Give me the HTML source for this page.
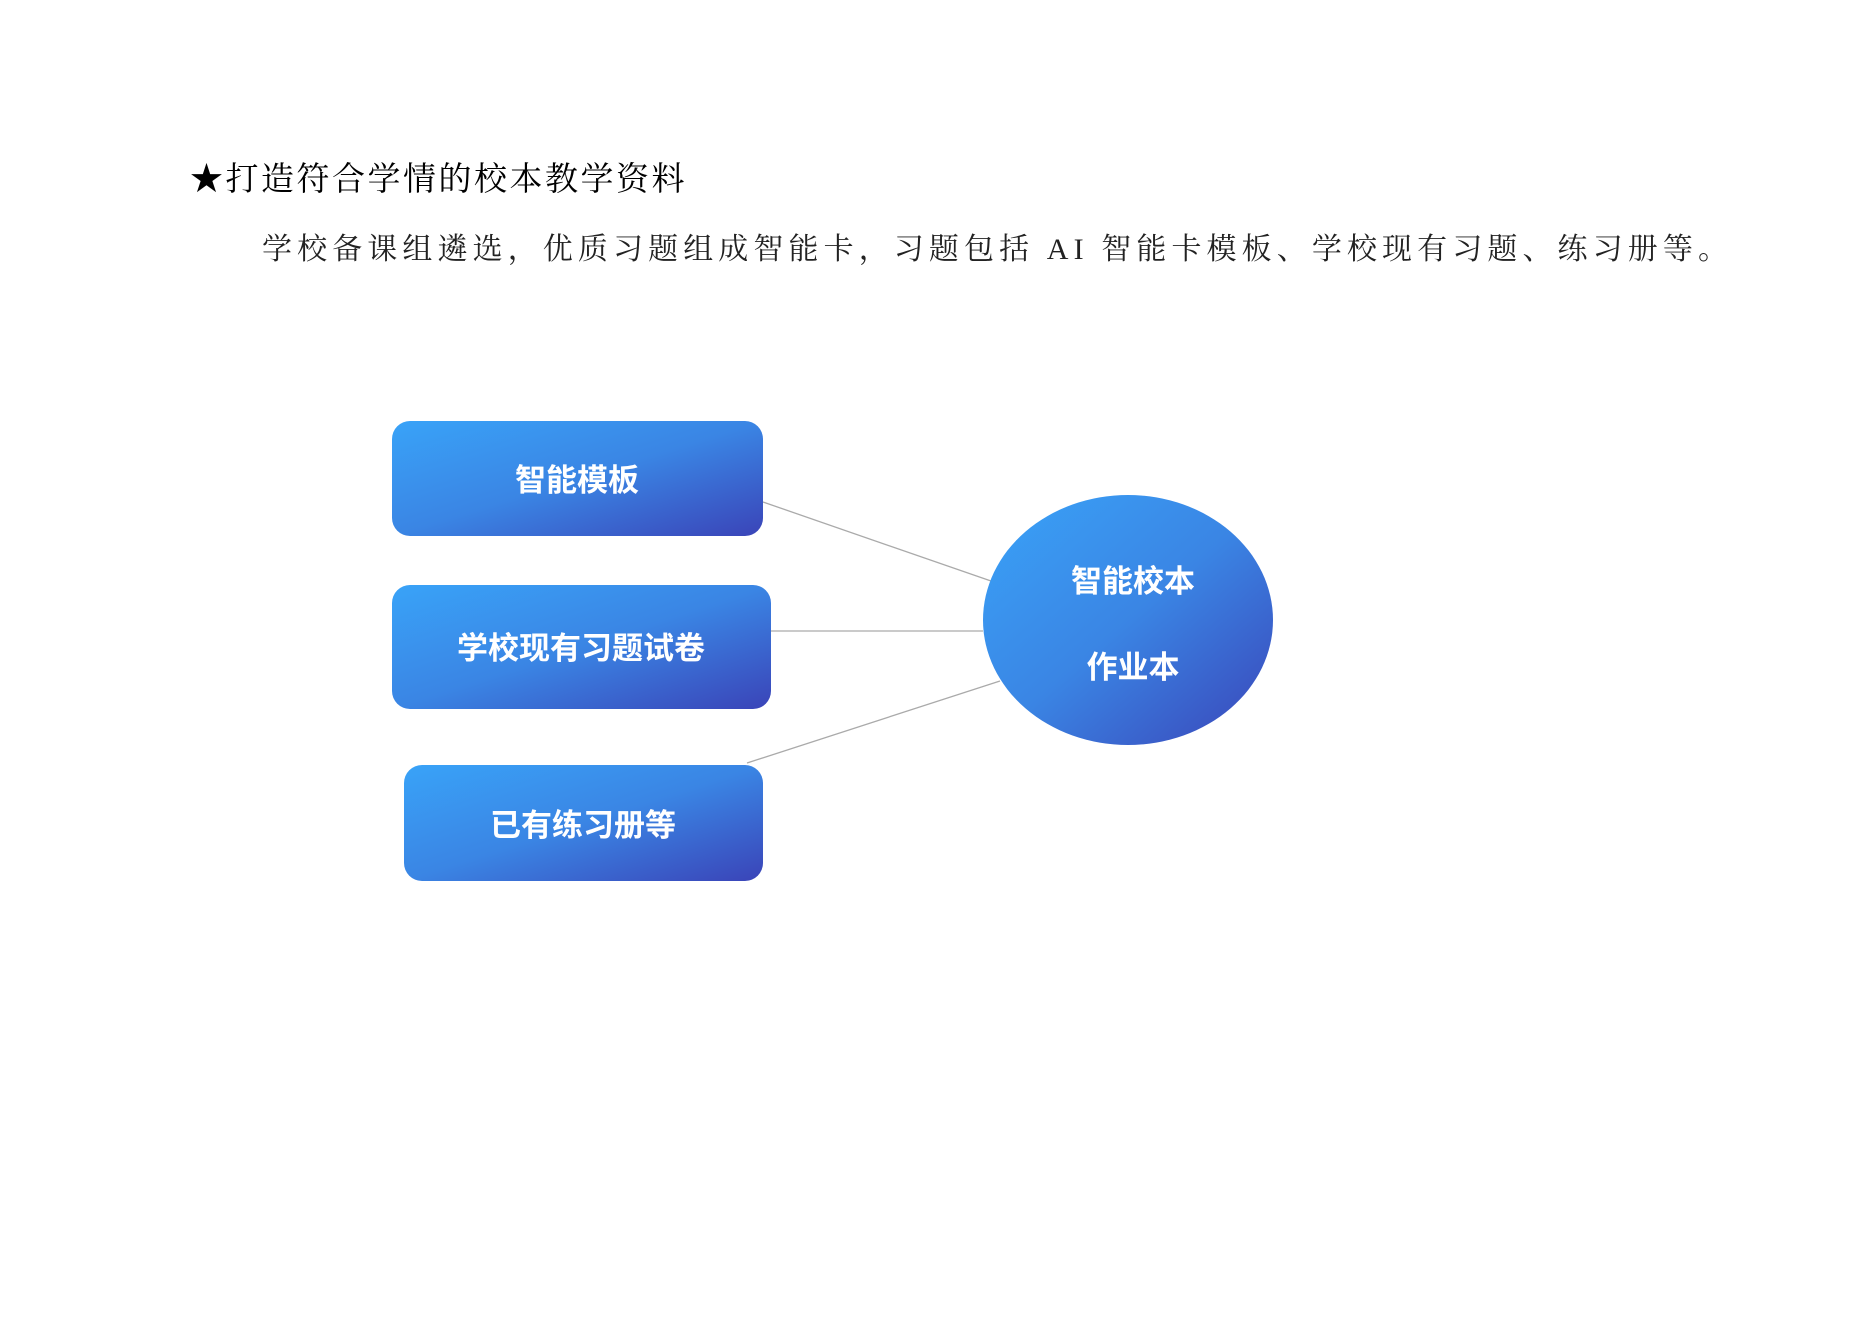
<!DOCTYPE html>
<html><head><meta charset="utf-8">
<style>
html,body{margin:0;padding:0;background:#fff;width:1871px;height:1323px;overflow:hidden}
svg{display:block}
</style></head><body>
<svg width="1871" height="1323" viewBox="0 0 1871 1323" xmlns="http://www.w3.org/2000/svg">
<defs>
<linearGradient id="g" x1="0" y1="0" x2="1" y2="1">
<stop offset="0" stop-color="#39a3f8"/><stop offset="0.5" stop-color="#3a85e4"/><stop offset="1" stop-color="#3a44b8"/>
</linearGradient>
</defs>
<text x="190" y="190" font-family="'Liberation Serif','Noto Serif CJK SC',serif" font-size="33" letter-spacing="2.5" fill="#000">★打造符合学情的校本教学资料</text>
<text x="262" y="259" font-family="'Liberation Serif','Noto Serif CJK SC',serif" font-size="30" letter-spacing="5.1" fill="#222">学校备课组遴选，优质习题组成智能卡，习题包括 AI 智能卡模板、学校现有习题、练习册等。</text>
<g transform="translate(-3,-3)">
<g stroke="#aaa" stroke-width="1.3">
<line x1="766" y1="505" x2="994" y2="584"/>
<line x1="774" y1="634" x2="986" y2="634"/>
<line x1="750" y1="766" x2="1003" y2="684"/>
</g>
<rect x="395" y="424" width="371" height="115" rx="18" fill="url(#g)"/>
<rect x="395" y="588" width="379" height="124" rx="18" fill="url(#g)"/>
<rect x="407" y="768" width="359" height="116" rx="18" fill="url(#g)"/>
<ellipse cx="1131" cy="623" rx="145" ry="125" fill="url(#g)"/>
<g font-family="'Liberation Sans','Noto Sans CJK SC',sans-serif" font-weight="bold" font-size="31" fill="#fff" text-anchor="middle">
<text x="580" y="494">智能模板</text>
<text x="584" y="662">学校现有习题试卷</text>
<text x="586" y="839">已有练习册等</text>
<text x="1136" y="595">智能校本</text>
<text x="1136" y="681">作业本</text>
</g>
</g>
</svg>
</body></html>
